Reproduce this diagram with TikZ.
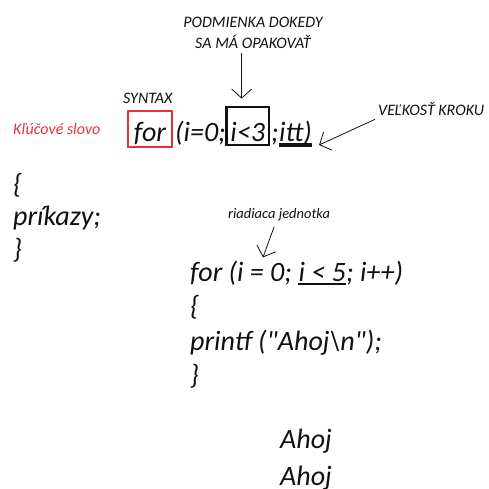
\documentclass[tikz,border=0pt]{standalone}
\usepackage{fontspec}
\setmainfont{Carlito}[Ligatures=TeXOff]
\usetikzlibrary{arrows.meta, positioning}
\definecolor{kwRed}{HTML}{E5323A}
\definecolor{inkBlack}{HTML}{111111}

\begin{document}
\begin{tikzpicture}[x=1pt, y=-1pt,
    kod/.style={font=\fontsize{28}{34}\selectfont\itshape, inner sep=0pt, anchor=base west, text=inkBlack},
    popis/.style={font=\fontsize{16}{21}\selectfont\itshape, inner sep=0pt, text=inkBlack},
    sipka/.style={-{Straight Barb[length=9pt, width=20pt]}, line width=0.8pt, inkBlack}]
  \useasboundingbox (0,0) rectangle (489,488);

  % Syntax line with the marked parts
  \node[popis, anchor=base west] (syntax) at (123,103) {SYNTAX};
  \node[popis, anchor=base west, text=kwRed] (klsl) at (13,134) {Kľúčové slovo};
  \node[kod, draw=kwRed, line width=1.8pt, inner xsep=6pt, text height=30pt, text depth=6pt]
    (kw) at (127,141) {for};
  \node[kod] (init) at (175,141) {(i=0;};
  \node[kod, draw=inkBlack, line width=2.8pt, inner xsep=4pt, text height=34pt, text depth=4pt]
    (cond) at (225,141) {i<3};
  \node[kod] (bodk) at (271,141) {;};
  \node[kod] (krok) at (279,141) {itt)};
  \draw[line width=3.5pt, inkBlack] ([yshift=-4pt]krok.base west) -- ([yshift=-4pt]krok.base east);

  % Labels with their arrows
  \node[popis, align=center, anchor=south] (podm) at (253,49) {PODMIENKA DOKEDY\\SA MÁ OPAKOVAŤ};
  \draw[sipka] ([xshift=-6pt, yshift=-4pt]podm.south -| cond.north) -- ([xshift=-6pt, yshift=7pt]cond.north);
  \node[popis, anchor=base west] (velk) at (378,115) {VEĽKOSŤ KROKU};
  \draw[sipka] ([xshift=-3pt, yshift=-4pt]velk.south west) -- ([xshift=7pt, yshift=-4pt]krok.base east);

  % General form of the block
  \node[kod] (lz1) at (13,193) {\{};
  \node[kod] (prik) at (13,225) {príkazy;};
  \node[kod] (pz1) at (13,258) {\}};

  % Example loop
  \node[popis, font=\fontsize{14.5}{18}\selectfont\itshape, anchor=base west] (riad) at (228,218) {riadiaca jednotka};
  \node[kod] (for2) at (190,281) {for (i = 0;};
  \node[kod, at={([xshift=6.3pt]for2.base east)}] (cond2) {i < 5};
  \node[kod, at={(cond2.base east)}] (zvys2) {; i++)};
  \draw[line width=1.2pt, inkBlack] ([yshift=-3pt]cond2.base west) -- ([yshift=-3pt]cond2.base east);
  \draw[sipka] ([xshift=-5pt, yshift=-6pt]riad.south) -- ([xshift=73pt, yshift=3pt]for2.north west);
  \node[kod] (lz2) at (190,315) {\{};
  \node[kod] (tlac) at (190,350) {printf ("Ahoj\textbackslash n");};
  \node[kod] (pz2) at (190,384) {\}};

  % Output
  \node[kod] (out1) at (280,448) {Ahoj};
  \node[kod] (out2) at (280,485) {Ahoj};
\end{tikzpicture}
\end{document}
